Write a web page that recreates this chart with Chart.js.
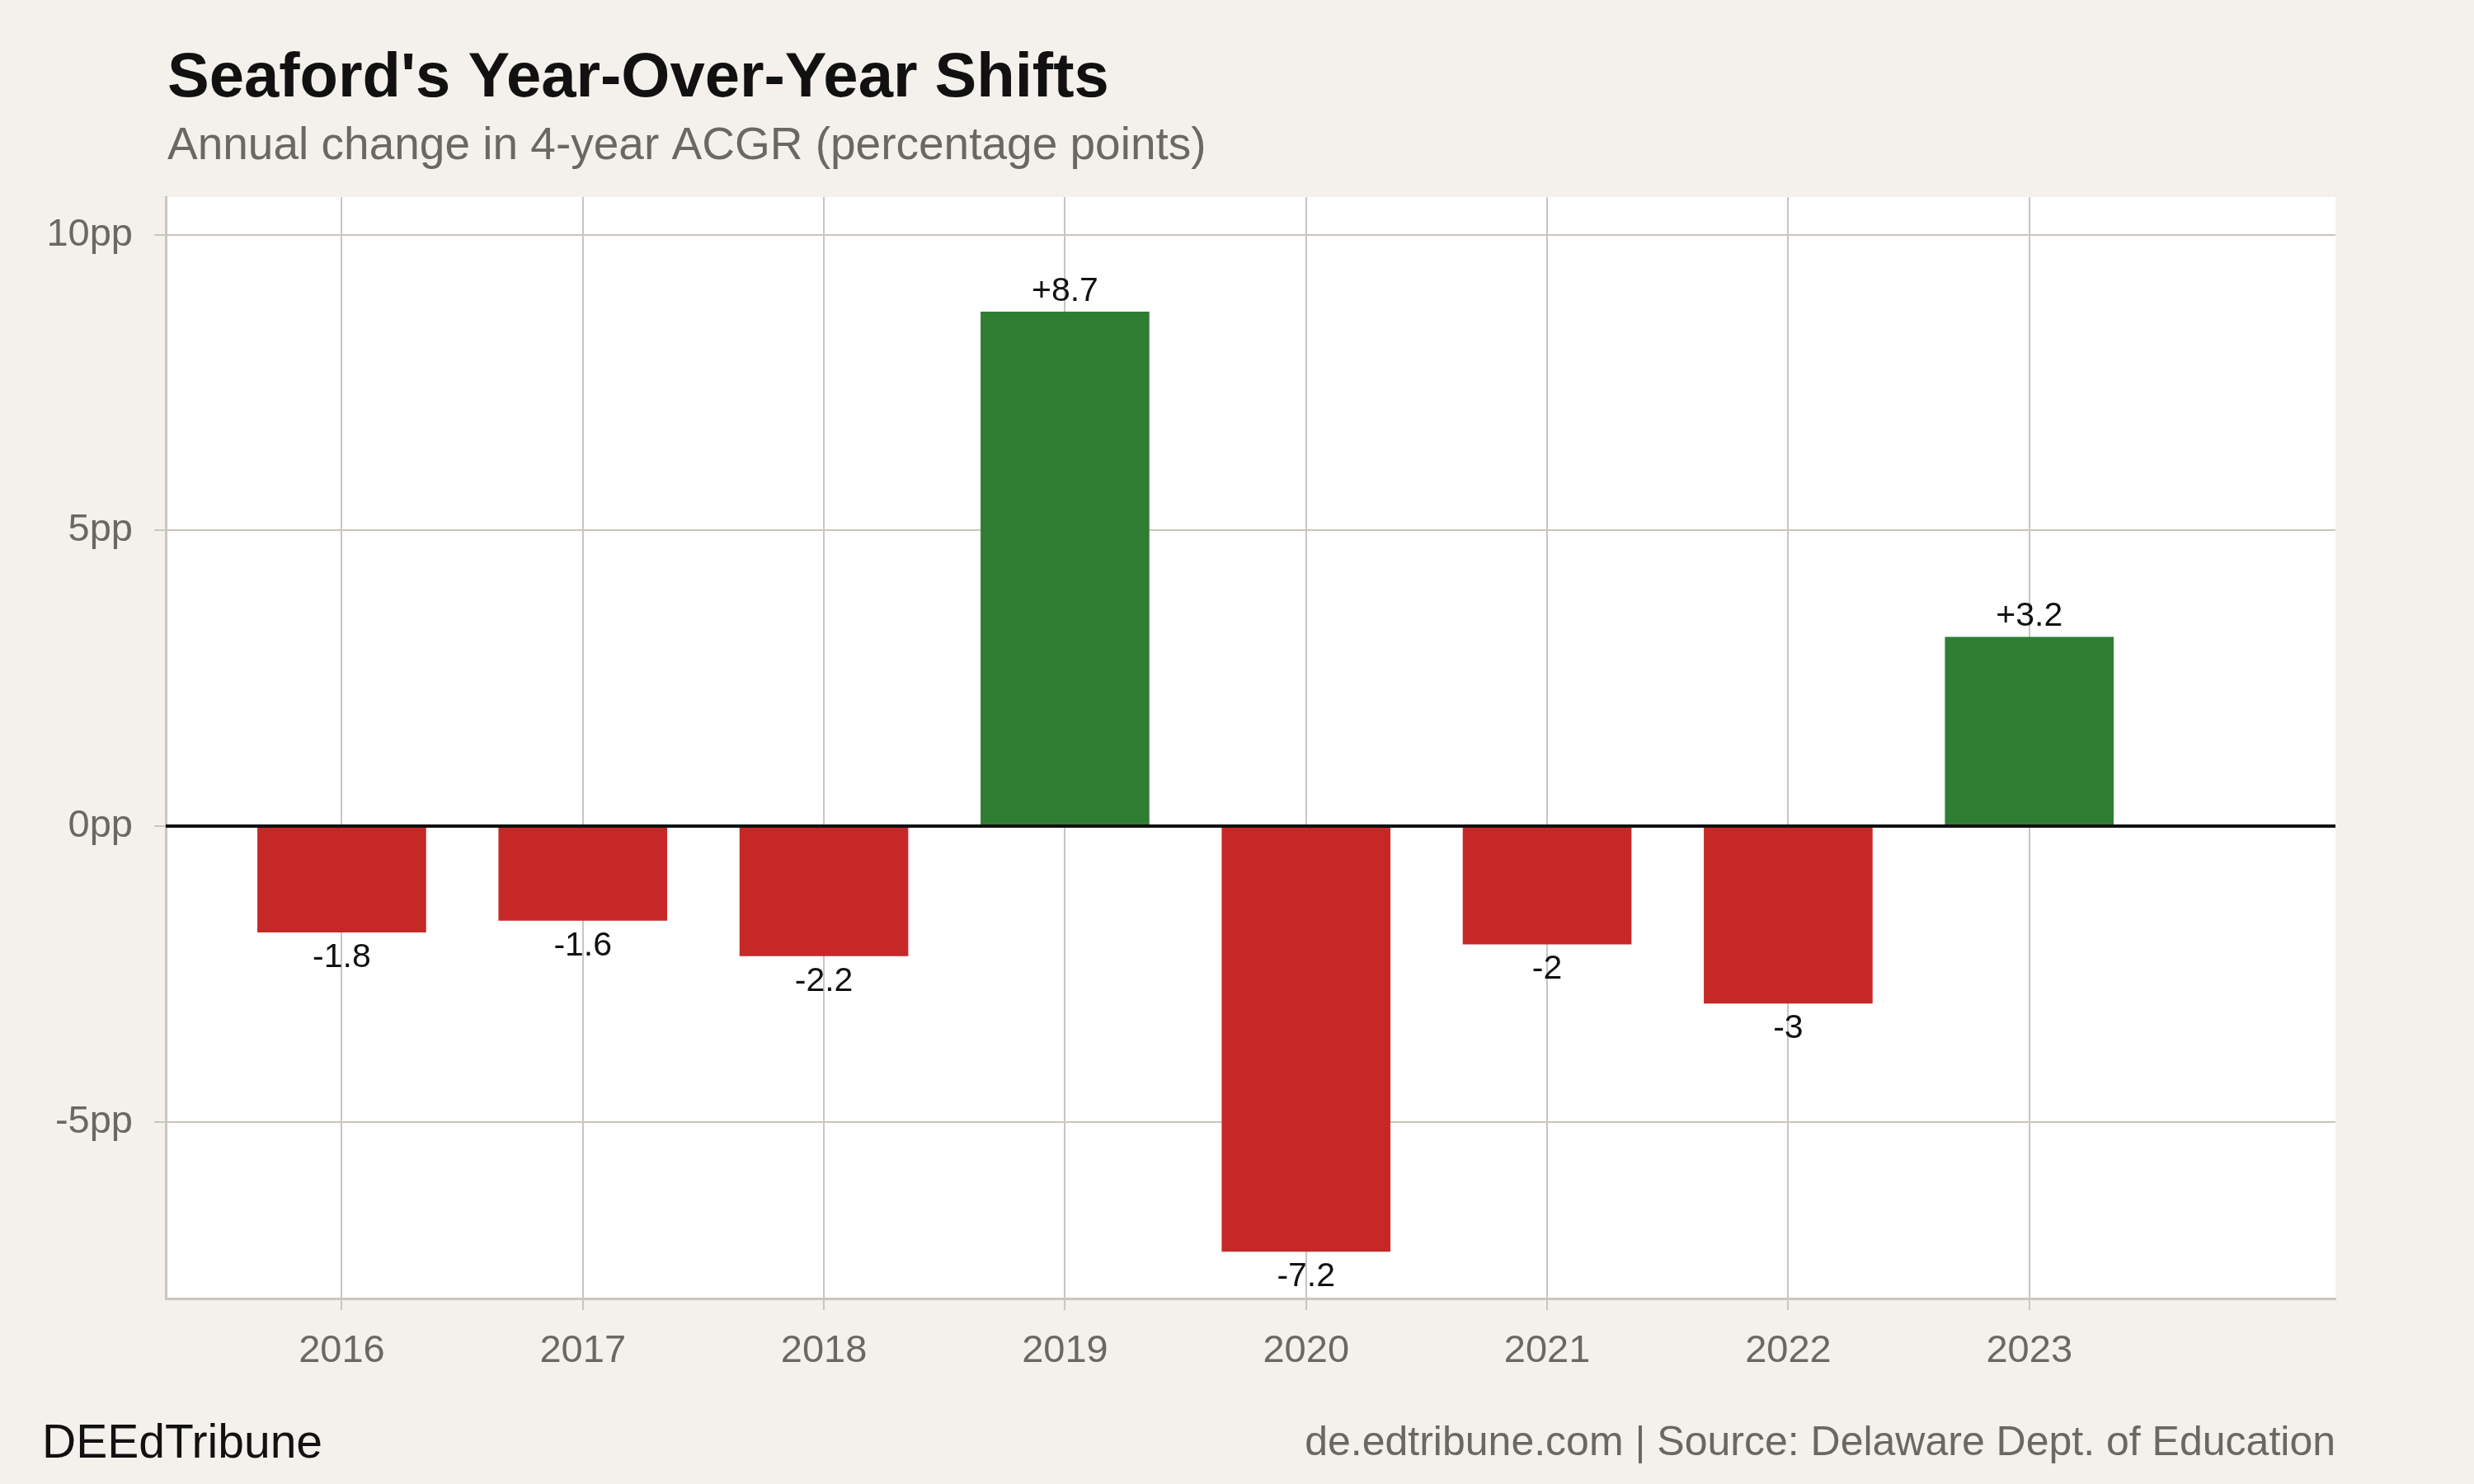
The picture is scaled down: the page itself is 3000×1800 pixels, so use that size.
<!DOCTYPE html>
<html>
<head>
<meta charset="utf-8">
<script src="https://cdn.jsdelivr.net/npm/chart.js@4/dist/chart.umd.min.js"></script>
<style>
  html, body { margin: 0; padding: 0; background: #f4f1ec; }
  #wrap { width: 3000px; height: 1800px; position: relative; }
</style>
</head>
<body>
<div id="wrap"><canvas id="chart" width="3000" height="1800"></canvas></div>
<script>
// ── DATA ─────────────────────────────────────────
const years   = [2016, 2017, 2018, 2019, 2020, 2021, 2022, 2023];
const changes = [-1.8, -1.6, -2.2, 8.7, -7.2, -2, -3, 3.2];
const yTicks  = [-5, 0, 5, 10];

const TITLE    = "Seaford's Year-Over-Year Shifts";
const SUBTITLE = 'Annual change in 4-year ACGR (percentage points)';
const BRAND    = 'DEEdTribune';
const SOURCE   = 'de.edtribune.com | Source: Delaware Dept. of Education';

const FONT  = '"Liberation Sans", Arial, Helvetica, sans-serif';
const GREEN = '#2e7d32';
const RED   = '#c62828';
const GRID  = '#cac5bd';
const GREY  = '#6b6863';

const fmt = v => (v > 0 ? '+' : '') + v;

// ── Plugin: background, titles, zero line, value labels ──
const decor = {
  id: 'decor',
  beforeDraw(chart) {
    const { ctx, chartArea: a } = chart;
    ctx.save();
    ctx.fillStyle = '#f4f1ec';
    ctx.fillRect(0, 0, chart.width, chart.height);
    ctx.fillStyle = '#ffffff';
    ctx.fillRect(a.left, a.top, a.right - a.left, a.bottom - a.top);
    ctx.restore();
  },
  afterDatasetsDraw(chart) {
    const { ctx, chartArea: a, scales } = chart;
    const y0 = scales.y.getPixelForValue(0);
    ctx.save();
    // zero line
    ctx.strokeStyle = '#111';
    ctx.lineWidth = 4;
    ctx.beginPath();
    ctx.moveTo(a.left, y0);
    ctx.lineTo(a.right, y0);
    ctx.stroke();
    // value labels
    ctx.fillStyle = '#111';
    ctx.font = '41px ' + FONT;
    ctx.textAlign = 'center';
    chart.getDatasetMeta(0).data.forEach((bar, i) => {
      const v = changes[i];
      if (v >= 0) {
        ctx.textBaseline = 'bottom';
        ctx.fillText(fmt(v), bar.x, bar.y - 4);
      } else {
        ctx.textBaseline = 'top';
        ctx.fillText(fmt(v), bar.x, bar.y + 10);
      }
    });
    ctx.restore();
  },
  afterDraw(chart) {
    const { ctx, chartArea: a } = chart;
    ctx.save();
    ctx.textBaseline = 'alphabetic';
    ctx.textAlign = 'left';
    ctx.fillStyle = '#111';
    ctx.font = 'bold 76px ' + FONT;
    ctx.fillText(TITLE, a.left + 2, 117);
    ctx.fillStyle = GREY;
    ctx.font = '55px ' + FONT;
    ctx.fillText(SUBTITLE, a.left + 2, 193);
    // footer
    ctx.fillStyle = '#111';
    ctx.font = '57px ' + FONT;
    ctx.fillText(BRAND, 51, 1768);
    ctx.fillStyle = GREY;
    ctx.font = '50px ' + FONT;
    ctx.textAlign = 'right';
    ctx.fillText(SOURCE, a.right, 1765);
    ctx.restore();
  }
};

new Chart(document.getElementById('chart'), {
  type: 'bar',
  data: {
    datasets: [{
      data: years.map((yr, i) => ({ x: yr, y: changes[i] })),
      backgroundColor: changes.map(v => v >= 0 ? GREEN : RED),
      borderWidth: 0,
      barPercentage: 0.7,
      categoryPercentage: 1
    }]
  },
  options: {
    responsive: false,
    animation: false,
    layout: { padding: { left: 0, right: 168, top: 239, bottom: 0 } },
    plugins: { legend: { display: false }, tooltip: { enabled: false } },
    scales: {
      x: {
        type: 'linear',
        min: 2015.27,
        max: 2024.27,
        offset: false,
        afterBuildTicks: s => { s.ticks = years.map(v => ({ value: v })); },
        afterFit: s => { s.height = 225; },
        grid: { offset: false, color: GRID, lineWidth: 2, tickLength: 14, tickColor: GRID },
        border: { color: GRID, width: 3 },
        ticks: { color: GREY, font: { family: FONT, size: 47 }, padding: 22, callback: v => String(v), maxRotation: 0, autoSkip: false }
      },
      y: {
        min: -7.99,
        max: 10.64,
        afterBuildTicks: s => { s.ticks = yTicks.map(v => ({ value: v })); },
        afterFit: s => { s.width = 201; },
        grid: { color: GRID, lineWidth: 2, tickLength: 14, tickColor: GRID },
        border: { color: GRID, width: 3 },
        ticks: { color: GREY, font: { family: FONT, size: 47 }, padding: 26, callback: v => v + 'pp' }
      }
    }
  },
  plugins: [decor]
});
</script>
</body>
</html>
